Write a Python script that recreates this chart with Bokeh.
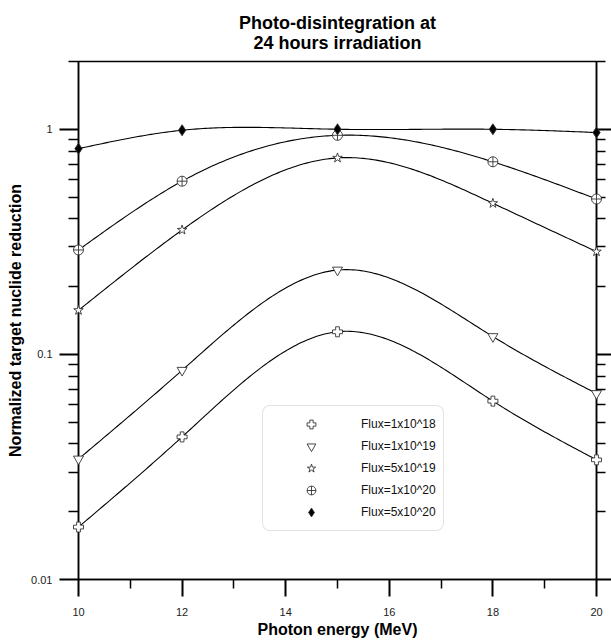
import numpy as np
from bokeh.plotting import figure
from bokeh.models import LogAxis, FixedTicker, Legend, LegendItem
from bokeh.embed import file_html
from bokeh.resources import INLINE

# ---- data ----
energy = [10, 12, 15, 18, 20]
flux_1e18 = [0.0171, 0.043, 0.126, 0.062, 0.034]
flux_1e19 = [0.0343, 0.085, 0.237, 0.12, 0.067]
flux_5e19 = [0.157, 0.357, 0.746, 0.469, 0.286]
flux_1e20 = [0.291, 0.588, 0.94, 0.717, 0.49]
flux_5e20 = [0.82, 0.99, 1.0, 1.0, 0.967]
labels = ["Flux=1x10^18", "Flux=1x10^19", "Flux=5x10^19", "Flux=1x10^20", "Flux=5x10^20"]
x_major = [10, 12, 14, 16, 18, 20]
x_minor = [11, 13, 15, 17, 19]
y_major = [0.01, 0.1, 1]
y_labels = {0.01: "0.01", 0.1: "0.1", 1: "1"}


def natural_spline(x, y, xs):
    x = np.asarray(x, float); y = np.asarray(y, float)
    n = len(x)
    h = np.diff(x)
    A = np.zeros((n, n)); b = np.zeros(n)
    A[0, 0] = 1; A[-1, -1] = 1
    for i in range(1, n - 1):
        A[i, i - 1] = h[i - 1]
        A[i, i] = 2 * (h[i - 1] + h[i])
        A[i, i + 1] = h[i]
        b[i] = 6 * ((y[i + 1] - y[i]) / h[i] - (y[i] - y[i - 1]) / h[i - 1])
    M = np.linalg.solve(A, b)
    out = np.empty_like(xs)
    for k, t in enumerate(xs):
        i = min(max(np.searchsorted(x, t) - 1, 0), n - 2)
        a = x[i + 1] - t; c = t - x[i]
        out[k] = (M[i] * a ** 3 + M[i + 1] * c ** 3) / (6 * h[i]) + \
            (y[i] / h[i] - M[i] * h[i] / 6) * a + (y[i + 1] / h[i] - M[i + 1] * h[i] / 6) * c
    return out


FONT = "Liberation Sans"

p = figure(width=611, height=640, x_range=(10, 20), y_range=(0.01, 2.0),
           y_axis_type="log", output_backend="svg", toolbar_location=None,
           min_border_left=78, min_border_right=15, min_border_top=61, min_border_bottom=59,
           background_fill_color="white", border_fill_color="white")

p.title.text = "Photo-disintegration at\n24 hours irradiation"
p.title.align = "center"
p.title.text_font = FONT
p.title.text_font_size = "18px"
p.title.text_font_style = "bold"
p.title.text_color = "black"
p.title.text_line_height = 1.0
p.title.standoff = 18
try:
    p.title.text_align = "center"
except Exception:
    pass

p.grid.visible = False
p.outline_line_color = "black"
p.outline_line_width = 1.5

y_minor = [m * d for d in (0.01, 0.1, 1) for m in range(2, 10) if m * d <= 2.0001]

# bottom axis
xa = p.xaxis[0]
xa.ticker = FixedTicker(ticks=x_major, minor_ticks=x_minor)
xa.axis_label = "Photon energy (MeV)"
# left axis
ya = p.yaxis[0]
ya.ticker = FixedTicker(ticks=y_major, minor_ticks=y_minor)
ya.major_label_overrides = y_labels
ya.axis_label = "Normalized target nuclide reduction"

for ax in (xa, ya):
    ax.axis_line_width = 1.5
    ax.axis_line_color = "black"
    ax.major_tick_line_width = 2
    ax.minor_tick_line_width = 1.5
    ax.major_tick_in = 0
    ax.minor_tick_in = 0
    ax.major_tick_out = 17
    ax.minor_tick_out = 9
    ax.major_label_text_font = FONT
    ax.major_label_text_font_size = "11px"
    ax.major_label_text_color = "#222222"
    ax.axis_label_text_font = FONT
    ax.axis_label_text_font_size = "16px"
    ax.axis_label_text_font_style = "bold"
    ax.axis_label_text_color = "black"
xa.major_label_standoff = 11
xa.axis_label_standoff = 2
ya.major_tick_out = 19
ya.minor_tick_out = 10
ya.major_label_standoff = 7
ya.axis_label_standoff = 4

ra = LogAxis(ticker=FixedTicker(ticks=y_major, minor_ticks=y_minor),
             axis_line_width=1.5, major_tick_line_width=2, minor_tick_line_width=1.5,
             major_tick_in=0, minor_tick_in=0, major_tick_out=15, minor_tick_out=9,
             major_label_text_font_size="0px", major_label_standoff=0)
ra.major_label_overrides = {0.01: "", 0.1: "", 1: ""}
p.add_layout(ra, "right")

series = [flux_1e18, flux_1e19, flux_5e19, flux_1e20, flux_5e20]
markers = ["plus", "inverted_triangle", "star", "circle_cross", "diamond"]
msizes = [10, 10, 10, 10, 11]
fills = ["white", "white", "white", "white", "black"]

xs = np.linspace(10, 20, 201)
items = []
for vals in series:
    ys = 10 ** natural_spline(energy, np.log10(vals), xs)
    p.line(xs, ys, line_color="black", line_width=1.1)
for vals, mk, ms, fc, lab in zip(series, markers, msizes, fills, labels):
    r = p.scatter(energy, vals, marker=mk, size=ms, fill_color=fc,
                  line_color="#333333", line_width=0.9, level="overlay")
    items.append(LegendItem(label=lab, renderers=[r]))

legend = Legend(items=items, location=(184, 48), orientation="vertical",
                glyph_width=82, glyph_height=22, label_height=22, spacing=0, padding=7, margin=0,
                label_width=75, label_standoff=9, label_text_font=FONT, label_text_font_size="12px",
                label_text_color="#111111", border_line_color="#c8c8c8", border_line_width=1,
                background_fill_color="white", background_fill_alpha=1)
try:
    legend.border_radius = 8
except Exception:
    pass
p.add_layout(legend, "center")

open("out.html", "w").write(file_html(p, INLINE))
